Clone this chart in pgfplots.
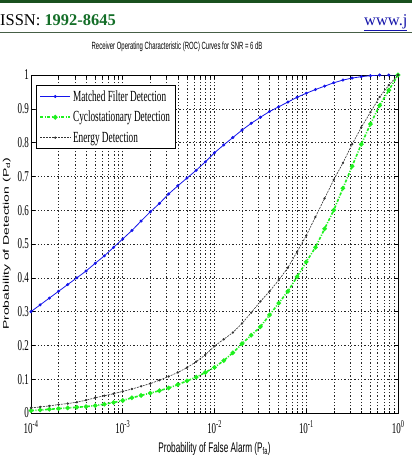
\documentclass[border=0pt]{standalone}
\usepackage{fontspec}
\setmainfont{Liberation Serif}
\newfontfamily\arial{Liberation Sans}
\usepackage{pgfplots}
\pgfplotsset{compat=1.18}
\definecolor{hdrgreen}{RGB}{25,80,30}
\definecolor{issngreen}{RGB}{20,110,40}
\definecolor{hdrline}{RGB}{70,95,70}
\definecolor{mfblue}{RGB}{20,20,235}
\definecolor{cygreen}{RGB}{30,240,30}
\definecolor{linkblue}{RGB}{20,20,170}
\begin{document}
\begin{tikzpicture}[x=1bp,y=1bp]
\path[use as bounding box] (0bp,0bp) rectangle (412bp,-458bp);
\fill[hdrgreen] (0bp,0bp) rectangle (412bp,-2.5bp);
\node[anchor=base west, inner sep=0pt, font=\fontsize{16.5}{18}\selectfont] at (0bp,-25bp) {ISSN: \textbf{\textcolor{issngreen}{1992-8645}}};
\node[anchor=base west, inner sep=0pt, font=\fontsize{16.5}{18}\selectfont, text=linkblue] at (364bp,-25bp) {\underline{www.j}};
\draw[hdrline, line width=1.5bp] (0bp,-32.5bp) -- (412bp,-32.5bp);
\begin{axis}[
  at={(31bp,-413bp)}, anchor=south west,
  width=367bp, height=338bp, scale only axis,
  xmode=log, xmin=1e-4, xmax=1, ymin=0, ymax=1,
  xtick={1e-4,1e-3,1e-2,1e-1,1},
  xticklabels={10\textsuperscript{-4},10\textsuperscript{-3},10\textsuperscript{-2},10\textsuperscript{-1},10\textsuperscript{0}},
  ytick={0,0.1,0.2,0.3,0.4,0.5,0.6,0.7,0.8,0.9,1},
  yticklabels={0,0.1,0.2,0.3,0.4,0.5,0.6,0.7,0.8,0.9,1},
  tick align=inside,
  major tick length=4bp, minor tick length=2.5bp,
  xmajorgrids, xminorgrids, ymajorgrids,
  major grid style={black!85, line width=0.5bp, dash pattern=on 1.3bp off 2bp},
  minor grid style={black!85, line width=0.5bp, dash pattern=on 1.3bp off 2bp},
  axis line style={black, line width=0.7bp},
  tick style={black, line width=0.5bp},
  xticklabel style={font=\fontsize{15}{16}\selectfont, xscale=0.6, yshift=-4.5bp},
  yticklabel style={font=\fontsize{15}{16}\selectfont, xscale=0.6},
  title={Receiver Operating Characteristic (ROC) Curves for SNR = 6 dB},
  title style={font=\arial\fontsize{10.5}{12}\selectfont, xscale=0.57, at={(axis description cs:0.398,1.065)}, anchor=center},
  xlabel={Probability of False Alarm (P\textsubscript{fa})},
  xlabel style={font=\arial\fontsize{14}{16}\selectfont, xscale=0.59, at={(axis description cs:0.5,-0.107)}, anchor=center},
  ylabel={\scalebox{1}[0.59]{Probability of Detection (P\textsubscript{d})}},
  ylabel style={font=\arial\fontsize{14}{16}\selectfont, at={(axis description cs:-0.066,0.5)}, anchor=center},
  legend style={at={(0.014,0.97)}, anchor=north west, draw=black, line width=0.6bp, fill=white,
    font=\fontsize{15.5}{17}\selectfont, row sep=4.5bp, inner sep=3bp},
  legend cell align=left,
  legend image code/.code={\draw[mark repeat=2,mark phase=2] plot coordinates {(0cm,0cm) (0.53cm,0cm) (1.06cm,0cm)};},
]
\addplot[mfblue, line width=0.8bp, mark=*, mark size=1.1bp] coordinates {
(1e-4,0.300) (1.259e-4,0.320) (1.585e-4,0.340) (1.995e-4,0.360) (2.512e-4,0.380)
(3.162e-4,0.400) (3.981e-4,0.420) (5.012e-4,0.443) (6.310e-4,0.465) (7.943e-4,0.490)
(1e-3,0.515) (1.259e-3,0.540) (1.585e-3,0.568) (1.995e-3,0.595) (2.512e-3,0.620)
(3.162e-3,0.648) (3.981e-3,0.672) (5.012e-3,0.695) (6.310e-3,0.718) (7.943e-3,0.743)
(1e-2,0.770) (1.259e-2,0.793) (1.585e-2,0.815) (1.995e-2,0.837) (2.512e-2,0.857)
(3.162e-2,0.875) (3.981e-2,0.892) (5.012e-2,0.906) (6.310e-2,0.920) (7.943e-2,0.934)
(0.1,0.946) (0.1259,0.957) (0.1585,0.967) (0.1995,0.977) (0.2512,0.985)
(0.3162,0.991) (0.3981,0.995) (0.5012,0.998) (0.6310,1.0) (0.7943,1.0) (1,1.0)};
\addlegendentry{\scalebox{0.6}[1]{Matched Filter Detection}}
\addplot[cygreen, line width=1.6bp, dash pattern=on 3bp off 1.5bp on 1bp off 1.5bp, mark=*, mark size=1.4bp, mark options={solid}] coordinates {
(1e-4,0.007) (1.259e-4,0.009) (1.585e-4,0.011) (1.995e-4,0.013) (2.512e-4,0.015)
(3.162e-4,0.017) (3.981e-4,0.019) (5.012e-4,0.022) (6.310e-4,0.026) (7.943e-4,0.031)
(1e-3,0.037) (1.259e-3,0.045) (1.585e-3,0.052) (1.995e-3,0.059) (2.512e-3,0.066)
(3.162e-3,0.074) (3.981e-3,0.084) (5.012e-3,0.095) (6.310e-3,0.106) (7.943e-3,0.120)
(1e-2,0.135) (1.259e-2,0.155) (1.585e-2,0.178) (1.995e-2,0.205) (2.512e-2,0.230)
(3.162e-2,0.255) (3.981e-2,0.290) (5.012e-2,0.325) (6.310e-2,0.360) (7.943e-2,0.403)
(0.1,0.447) (0.1259,0.490) (0.1585,0.545) (0.1995,0.600) (0.2512,0.665)
(0.3162,0.730) (0.3981,0.795) (0.5012,0.855) (0.6310,0.910) (0.7943,0.955) (1,1.0)};
\addlegendentry{\scalebox{0.6}[1]{Cyclostationary Detection}}
\addplot[black!80, line width=0.6bp, dash pattern=on 2bp off 1bp, mark=*, mark size=0.85bp, mark options={solid}] coordinates {
(1e-4,0.015) (1.259e-4,0.018) (1.585e-4,0.021) (1.995e-4,0.025) (2.512e-4,0.028)
(3.162e-4,0.032) (3.981e-4,0.038) (5.012e-4,0.045) (6.310e-4,0.051) (7.943e-4,0.057)
(1e-3,0.064) (1.259e-3,0.071) (1.585e-3,0.079) (1.995e-3,0.087) (2.512e-3,0.097)
(3.162e-3,0.108) (3.981e-3,0.120) (5.012e-3,0.134) (6.310e-3,0.152) (7.943e-3,0.172)
(1e-2,0.198) (1.259e-2,0.218) (1.585e-2,0.238) (1.995e-2,0.265) (2.512e-2,0.297)
(3.162e-2,0.330) (3.981e-2,0.360) (5.012e-2,0.393) (6.310e-2,0.430) (7.943e-2,0.477)
(0.1,0.525) (0.1259,0.580) (0.1585,0.635) (0.1995,0.690) (0.2512,0.740)
(0.3162,0.795) (0.3981,0.845) (0.5012,0.890) (0.6310,0.935) (0.7943,0.970) (1,1.0)};
\addlegendentry{\scalebox{0.6}[1]{Energy Detection}}
\end{axis}
\end{tikzpicture}
\end{document}
